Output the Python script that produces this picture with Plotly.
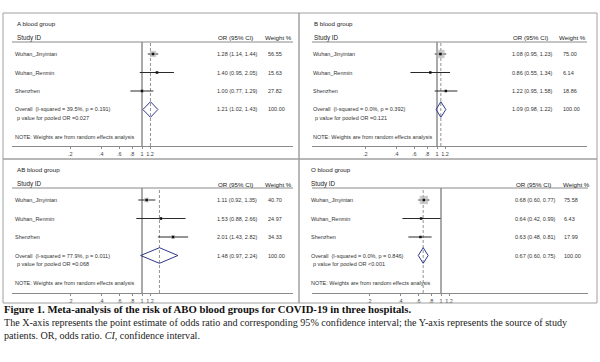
import numpy as np
import plotly.graph_objects as go

# ---------------- data ----------------
studies = ["Wuhan_Jinyintan", "Wuhan_Renmin", "Shenzhen"]
group_titles = ["A blood group", "B blood group", "AB blood group", "O blood group"]

or_A = [1.28, 1.40, 1.00]
lo_A = [1.14, 0.95, 0.77]
hi_A = [1.44, 2.05, 1.29]
wt_A = [56.55, 15.63, 27.82]
pool_A = [1.21, 1.02, 1.43]
het_A = ["39.5%", "0.191"]
pval_A = "=0.027"

or_B = [1.08, 0.86, 1.22]
lo_B = [0.95, 0.55, 0.95]
hi_B = [1.23, 1.34, 1.58]
wt_B = [75.00, 6.14, 18.86]
pool_B = [1.09, 0.98, 1.22]
het_B = ["0.0%", "0.392"]
pval_B = "=0.121"

or_AB = [1.11, 1.53, 2.01]
lo_AB = [0.92, 0.88, 1.43]
hi_AB = [1.35, 2.66, 2.82]
wt_AB = [40.70, 24.97, 34.33]
pool_AB = [1.48, 0.97, 2.24]
het_AB = ["77.9%", "0.011"]
pval_AB = "=0.068"

or_O = [0.68, 0.64, 0.63]
lo_O = [0.60, 0.42, 0.48]
hi_O = [0.77, 0.99, 0.81]
wt_O = [75.58, 6.43, 17.99]
pool_O = [0.67, 0.60, 0.75]
het_O = ["0.0%", "0.846"]
pval_O = "<0.001"

tick_vals = [0.2, 0.4, 0.6, 0.8, 1.0, 1.2]
tick_text = [".2", ".4", ".6", ".8", "1", "1.2"]

caption_title = "Figure 1. Meta-analysis of the risk of ABO blood groups for COVID-19 in three hospitals."
caption_1 = ("The X-axis represents the point estimate of odds ratio and corresponding 95% confidence "
             "interval; the Y-axis represents the source of study")
caption_2 = "patients. OR, odds ratio. <i>CI</i>, confidence interval."

datasets = [
    (or_A, lo_A, hi_A, wt_A, pool_A, het_A, pval_A),
    (or_B, lo_B, hi_B, wt_B, pool_B, het_B, pval_B),
    (or_AB, lo_AB, hi_AB, wt_AB, pool_AB, het_AB, pval_AB),
    (or_O, lo_O, hi_O, wt_O, pool_O, het_O, pval_O),
]

# ---------------- layout geometry (pixels) ----------------
W, H = 600, 362
PX_PER_LN = 44.5
panels = [
    dict(left=3, right=299, top=13, bottom=159, ax0=12, ax1=293, one=142, axis_off=133,
         study_x=14, title_x=16, or_x=216, wh_x=264, wt_x=267),
    dict(left=299, right=597, top=13, bottom=159, ax0=312, ax1=587, one=437, axis_off=133,
         study_x=312, title_x=313, or_x=511, wh_x=558, wt_x=562),
    dict(left=3, right=299, top=159, bottom=303, ax0=12, ax1=293, one=142, axis_off=134,
         study_x=14, title_x=16, or_x=216, wh_x=264, wt_x=267),
    dict(left=299, right=597, top=159, bottom=303, ax0=312, ax1=588, one=441, axis_off=134,
         study_x=310, title_x=310, or_x=514, wh_x=562, wt_x=563),
]
HEAD_OFF = 29
ROW0 = 41
ROW_STEP = 18.5

FONT = "Liberation Sans, Arial, sans-serif"
SERIF = "Liberation Serif, Times New Roman, serif"

fig = go.Figure()
annotations = []
shapes = []


def px(x):
    return x / W


def py(y):
    return 1 - y / H


def txt(x, y, s, size=5.5, color="#333", anchor="left", family=FONT):
    annotations.append(dict(x=px(x), y=py(y), xref="paper", yref="paper", text=s,
                            showarrow=False, xanchor=anchor, yanchor="middle",
                            font=dict(family=family, size=size, color=color),
                            borderpad=0))


layout_axes = {}
for k, (p, d) in enumerate(zip(panels, datasets)):
    ors, los, his, wts, pool, het, pval = d
    n = k + 1
    xa = "x" if n == 1 else f"x{n}"
    ya = "y" if n == 1 else f"y{n}"
    xkey = "xaxis" if n == 1 else f"xaxis{n}"
    ykey = "yaxis" if n == 1 else f"yaxis{n}"

    xr = [(p["ax0"] - p["one"]) / PX_PER_LN, (p["ax1"] - p["one"]) / PX_PER_LN]
    layout_axes[xkey] = dict(
        domain=[px(p["ax0"]), px(p["ax1"])], range=xr, anchor=ya,
        showline=True, linecolor="#8a8a8a", linewidth=1,
        ticks="outside", ticklen=2, tickcolor="#8a8a8a", tickwidth=1,
        tickvals=list(np.log(tick_vals)), ticktext=tick_text,
        tickfont=dict(family=FONT, size=5.5, color="#444"),
        showgrid=False, zeroline=False,
    )
    layout_axes[ykey] = dict(
        domain=[py(p["top"] + p["axis_off"]), py(p["top"] + HEAD_OFF)],
        range=[p["axis_off"], HEAD_OFF], anchor=xa, visible=False,
        showgrid=False, zeroline=False,
    )

    rows = [ROW0 + ROW_STEP * i for i in range(len(studies))]
    overall_y = ROW0 + ROW_STEP * len(studies)

    # CI lines
    lx, ly = [], []
    for lo, hi, r in zip(los, his, rows):
        lx += [np.log(lo), np.log(hi), None]
        ly += [r, r, None]
    fig.add_trace(go.Scatter(x=lx, y=ly, xaxis=xa, yaxis=ya, mode="lines",
                             line=dict(color="#2a2a2a", width=1), hoverinfo="skip",
                             showlegend=False))
    # weight boxes
    fig.add_trace(go.Scatter(x=np.log(ors), y=rows, xaxis=xa, yaxis=ya, mode="markers",
                             marker=dict(symbol="square", size=[0.11 * w for w in wts],
                                         color="#b5b5b5", line=dict(width=0)),
                             showlegend=False))
    # point estimate dots
    fig.add_trace(go.Scatter(x=np.log(ors), y=rows, xaxis=xa, yaxis=ya, mode="markers",
                             marker=dict(symbol="square", size=2.5, color="#111",
                                         line=dict(width=0)),
                             showlegend=False))
    # pooled diamond
    est, plo, phi = np.log(pool[0]), np.log(pool[1]), np.log(pool[2])
    hh = 7.8
    fig.add_trace(go.Scatter(x=[plo, est, phi, est, plo],
                             y=[overall_y, overall_y - hh, overall_y, overall_y + hh, overall_y],
                             xaxis=xa, yaxis=ya, mode="lines",
                             line=dict(color="#2e3a8a", width=1), showlegend=False))

    # reference lines
    shapes.append(dict(type="line", xref=xa, yref=f"{ya} domain", x0=0, x1=0, y0=0, y1=1,
                       line=dict(color="#555", width=1), layer="below"))
    shapes.append(dict(type="line", xref=xa, yref=f"{ya} domain", x0=est, x1=est, y0=0, y1=1,
                       line=dict(color="#777", width=0.8, dash="3px,2px"), layer="below"))
    # header rule
    shapes.append(dict(type="line", xref="paper", yref="paper", x0=px(p["ax0"]), x1=px(p["ax1"]),
                       y0=py(p["top"] + HEAD_OFF), y1=py(p["top"] + HEAD_OFF),
                       line=dict(color="#8a8a8a", width=1)))
    # panel border
    shapes.append(dict(type="rect", xref="paper", yref="paper", x0=px(p["left"]), x1=px(p["right"]),
                       y0=py(p["bottom"]), y1=py(p["top"]),
                       line=dict(color="#a0a0a0", width=1)))

    T = p["top"]
    txt(p["title_x"], T + 10.5, group_titles[k], size=6.2, color="#222")
    txt(p["title_x"], T + 25, "Study ID", size=6.3, color="#222")
    txt(p["or_x"] + 1, T + 25, "OR (95% CI)", size=6.2, color="#222")
    txt(p["wh_x"], T + 25, "Weight %", size=6.2, color="#222")
    for i, s in enumerate(studies):
        txt(p["study_x"], T + rows[i], s)
        txt(p["or_x"], T + rows[i], f"{ors[i]:.2f} ({los[i]:.2f}, {his[i]:.2f})")
        txt(p["wt_x"], T + rows[i], f"{wts[i]:.2f}")
    txt(p["study_x"], T + overall_y,
        f"Overall&nbsp; (I-squared = {het[0]}, p = {het[1]})")
    txt(p["or_x"], T + overall_y, f"{pool[0]:.2f} ({pool[1]:.2f}, {pool[2]:.2f})")
    txt(p["wt_x"], T + overall_y, f"{sum(wts):.2f}")
    txt(p["study_x"] + 2, T + overall_y + 8.5, f"p value for pooled OR {pval}")
    txt(p["study_x"], T + overall_y + 27.5, "NOTE: Weights are from random effects analysis")

# caption
txt(3, 309, f"<b>{caption_title}</b>", size=10.7, color="#111", family=SERIF)
txt(3, 322, caption_1, size=10.1, color="#222", family=SERIF)
txt(3, 335.5, caption_2, size=10.1, color="#222", family=SERIF)

fig.update_layout(
    width=W, height=H, margin=dict(l=0, r=0, t=0, b=0),
    paper_bgcolor="white", plot_bgcolor="white",
    annotations=annotations, shapes=shapes, showlegend=False,
    **layout_axes,
)

fig.write_html("out.html", config={"displayModeBar": False},
               post_script="document.body.style.margin='0';document.body.style.padding='0';")
